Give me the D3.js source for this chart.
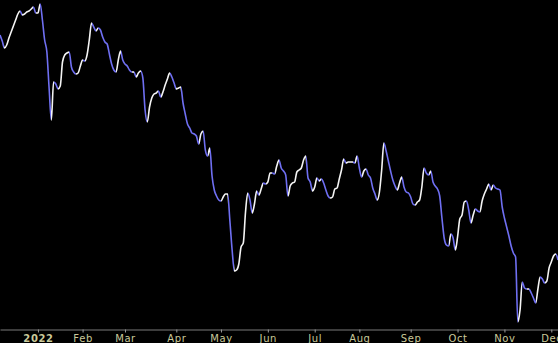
<!DOCTYPE html>
<html>
<head>
<meta charset="utf-8">
<script src="https://cdn.jsdelivr.net/npm/d3@7"></script>
<style>
  html, body { margin: 0; padding: 0; background: #000; }
  svg { display: block; }
</style>
</head>
<body>
<svg id="chart" width="558" height="343"></svg>
<script>

var width = 558;
var height = 343;
var axisY = 329.5;

// first trading day shown, and market holidays inside the range
var startDay = '2021-12-08';
var holidays = ['2021-12-24', '2022-01-17', '2022-02-21', '2022-04-15', '2022-05-30',
    '2022-06-20', '2022-07-04', '2022-09-05', '2022-11-24'];

// daily closes (one per trading day)
var closes = [
    365, 359, 352, 355, 362, 368, 374, 380, 386, 389,
    385, 386, 388, 389, 391, 393, 387, 387, 396, 380,
    360, 348, 312, 280, 318, 316, 311, 314, 338, 345,
    347, 348, 333, 328, 326, 327, 334, 340, 339, 345,
    360, 377, 373, 369, 372, 370, 363, 358, 356, 346,
    336, 330, 328, 340, 349, 340, 336, 334, 330, 328,
    328, 323, 327, 329, 322, 290, 278, 293, 302, 306,
    307, 309, 303, 308, 315, 321, 327, 323, 317, 311,
    312, 313, 297, 286, 276, 272, 267, 266, 264, 256,
    266, 269, 250, 244, 252, 224, 210, 204, 200, 199,
    203, 206, 206, 179, 150, 129, 130, 136, 153, 157,
    188, 207, 200, 187, 196, 209, 205, 211, 217, 216,
    218, 227, 227, 226, 234, 240, 232, 229, 225, 204,
    214, 217, 218, 228, 230, 232, 240, 244, 222, 218,
    209, 213, 222, 219, 221, 217, 210, 204, 202, 203,
    211, 212, 221, 230, 241, 237, 238, 238, 238, 237,
    244, 232, 223, 229, 231, 225, 222, 212, 206, 200,
    208, 230, 257, 249, 239, 229, 220, 214, 210, 217,
    223, 213, 208, 207, 203, 196, 195, 198, 200, 213,
    232, 227, 225, 229, 218, 214, 211, 204, 182, 162,
    155, 154, 166, 162, 150, 163, 181, 185, 198, 199,
    190, 177, 185, 191, 189, 188, 199, 206, 211, 216,
    210, 215, 212, 211, 210, 193, 182, 173, 164, 154,
    147, 143, 78, 90, 118, 112, 111, 111, 107, 102,
    97, 111, 123, 121, 117, 119, 132, 138, 144, 146,
    140
];

var monthLabels = ['2022', 'Feb', 'Mar', 'Apr', 'May', 'Jun', 'Jul', 'Aug', 'Sep', 'Oct', 'Nov', 'Dec'];

var upColor = '#f4f4f4';
var downColor = '#6f6ff2';
var labelColor = '#c9c99a';


// build the trading-day calendar that goes with the closes
var parse = d3.timeParse('%Y-%m-%d');
var fmt = d3.timeFormat('%Y-%m-%d');
var days = [];
var day = parse(startDay);
while (days.length < closes.length) {
    var wd = day.getDay();
    if (wd !== 0 && wd !== 6 && holidays.indexOf(fmt(day)) < 0) {
        days.push(day);
    }
    day = d3.timeDay.offset(day, 1);
}

// index of the first trading day of each new month
var tickIdx = [];
for (var i = 1; i < days.length; i++) {
    if (days[i].getMonth() !== days[i - 1].getMonth()) tickIdx.push(i);
}

var x = d3.scaleLinear()
    .domain([0, closes.length - 1])
    .range([0, width]);

var y = d3.scaleLinear()
    .domain(d3.extent(closes))
    .range([322, 4]);

var svg = d3.select('#chart');

svg.append('rect')
    .attr('width', width)
    .attr('height', height)
    .attr('fill', '#000');

// hard-stop gradient: white where the close rises, blue where it falls
var grad = svg.append('defs').append('linearGradient')
    .attr('id', 'dir')
    .attr('gradientUnits', 'userSpaceOnUse')
    .attr('x1', 0).attr('x2', width)
    .attr('y1', 0).attr('y2', 0);

for (var j = 0; j < closes.length - 1; j++) {
    var c = closes[j + 1] >= closes[j] ? upColor : downColor;
    grad.append('stop').attr('offset', x(j) / width).attr('stop-color', c);
    grad.append('stop').attr('offset', x(j + 1) / width).attr('stop-color', c);
}

var line = d3.line()
    .x(function(d, i) { return x(i); })
    .y(function(d) { return y(d); })
    .curve(d3.curveMonotoneX);

svg.append('path')
    .datum(closes)
    .attr('d', line)
    .attr('fill', 'none')
    .attr('stroke', 'url(#dir)')
    .attr('stroke-width', 1.6)
    .attr('stroke-linejoin', 'round');

var xAxis = d3.axisBottom(x)
    .tickValues(tickIdx)
    .tickSize(3)
    .tickSizeOuter(0)
    .tickPadding(2)
    .tickFormat(function(d, i) { return monthLabels[i]; });

var gx = svg.append('g')
    .attr('transform', 'translate(0,' + axisY + ')')
    .call(xAxis);

gx.select('.domain').attr('stroke', '#7a7a7a');
gx.selectAll('.tick line').attr('stroke', '#9a9a9a');
gx.selectAll('.tick text')
    .attr('fill', labelColor)
    .attr('font-family', 'DejaVu Sans, sans-serif')
    .attr('font-size', 10)
    .attr('letter-spacing', 0.6)
    .attr('font-weight', function(d, i) { return i === 0 ? 'bold' : 'normal'; });

</script>
</body>
</html>
